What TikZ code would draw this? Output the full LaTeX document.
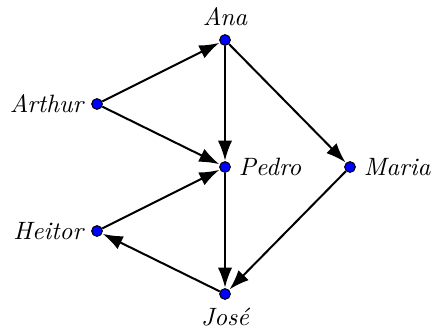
\documentclass[tikz,border=0pt]{standalone}
\usetikzlibrary{arrows.meta}
\begin{document}
\begin{tikzpicture}[x=0.014cm,y=-0.014cm,
  vtx/.style={circle,fill=blue,draw=black,line width=0.4pt,inner sep=0pt,minimum size=0.15cm},
  edge/.style={line width=0.8pt,-{Latex[length=2.8mm,width=2mm]},shorten >=0.2pt},
  lbl/.style={font=\itshape}]
\useasboundingbox (0,0) rectangle (433,329);
\node[vtx,label={[lbl,inner sep=3pt]above:Ana}] (ana) at (225,40) {};
\node[vtx,label={[lbl,inner sep=3pt]left:Arthur}] (arthur) at (97,104) {};
\node[vtx,label={[lbl,inner sep=3pt]right:Pedro}] (pedro) at (225,167) {};
\node[vtx,label={[lbl,inner sep=3pt]right:Maria}] (maria) at (350,167) {};
\node[vtx,label={[lbl,inner sep=3pt]left:Heitor}] (heitor) at (97,231) {};
\node[vtx,label={[lbl,inner sep=3pt]below:José}] (jose) at (225,294) {};
\draw[edge] (arthur) -- (ana);
\draw[edge] (arthur) -- (pedro);
\draw[edge] (ana) -- (pedro);
\draw[edge] (ana) -- (maria);
\draw[edge] (pedro) -- (jose);
\draw[edge] (maria) -- (jose);
\draw[edge] (heitor) -- (pedro);
\draw[edge] (jose) -- (heitor);
\end{tikzpicture}
\end{document}
